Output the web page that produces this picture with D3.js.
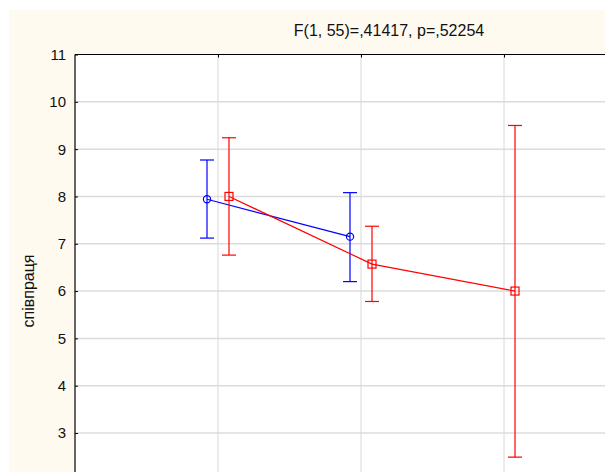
<!DOCTYPE html>
<html>
<head>
<meta charset="utf-8">
<script src="https://cdn.jsdelivr.net/npm/d3@7"></script>
<style>
  body { margin: 0; background: #fff; }
  svg { display: block; font-family: Arial, "Liberation Sans", sans-serif; }
</style>
</head>
<body>
<svg id="chart" width="605" height="472"></svg>
<script>
// Data
const categories = ['1', '2', '3'];
const yTicks = [3, 4, 5, 6, 7, 8, 9, 10, 11];
const title = 'F(1, 55)=,41417, p=,52254';
const yLabel = 'співпраця';

// series 1 (blue, circles)
const blueMean  = [7.94, 7.15, null];
const blueUpper = [8.77, 8.08, null];
const blueLower = [7.12, 6.20, null];

// series 2 (red, squares)
const redMean  = [8.00, 6.57, 6.00];
const redUpper = [9.24, 7.37, 9.50];
const redLower = [6.76, 5.78, 2.49];

const W = 605, H = 472;
const plot = { left: 75, top: 54.5, right: 647, bottom: 520 };

const svg = d3.select('#chart');

// Background panels
svg.append('rect').attr('x', 9).attr('y', 10).attr('width', W).attr('height', H).attr('fill', '#fffaf0');
svg.append('rect')
  .attr('x', plot.left).attr('y', plot.top)
  .attr('width', plot.right - plot.left).attr('height', plot.bottom - plot.top)
  .attr('fill', '#ffffff');

const x = d3.scalePoint().domain(categories).range([plot.left, plot.right]).padding(1);
const y = d3.scaleLinear().domain([3, 11]).range([433, plot.top]);

// Grid
const g = svg.append('g');
g.selectAll('.hgrid')
  .data(yTicks.filter(t => t < 11))
  .join('line')
  .attr('x1', plot.left).attr('x2', plot.right)
  .attr('y1', d => y(d)).attr('y2', d => y(d))
  .attr('stroke', '#dcdcdc').attr('stroke-width', 1.5);

g.selectAll('.vgrid')
  .data(categories)
  .join('line')
  .attr('x1', d => x(d)).attr('x2', d => x(d))
  .attr('y1', plot.top).attr('y2', plot.bottom)
  .attr('stroke', '#d8d8d8').attr('stroke-width', 1);

// Left axis (inward ticks)
svg.append('g')
  .attr('transform', `translate(${plot.left},0)`)
  .call(d3.axisRight(y).tickValues(yTicks).tickSize(3).tickFormat(''))
  .call(ax => ax.select('.domain').remove())
  .call(ax => ax.selectAll('line').attr('stroke', '#000'));

svg.append('line')
  .attr('x1', plot.left).attr('x2', plot.left)
  .attr('y1', plot.top).attr('y2', plot.bottom)
  .attr('stroke', '#000').attr('stroke-width', 1.2);

svg.selectAll('.ylab')
  .data(yTicks)
  .join('text')
  .attr('x', 66).attr('y', d => y(d))
  .attr('dy', '0.36em')
  .attr('text-anchor', 'end')
  .attr('font-size', 15)
  .attr('fill', '#111')
  .text(d => d);

// Top axis with downward ticks
svg.append('g')
  .attr('transform', `translate(0,${plot.top})`)
  .call(d3.axisBottom(x).tickSize(3).tickFormat(''))
  .call(ax => ax.select('.domain').remove())
  .call(ax => ax.selectAll('line').attr('stroke', '#000'));

svg.append('line')
  .attr('x1', plot.left).attr('x2', plot.right)
  .attr('y1', plot.top).attr('y2', plot.top)
  .attr('stroke', '#000').attr('stroke-width', 1.2);

// Title and y label
svg.append('text')
  .attr('x', 389).attr('y', 35.5)
  .attr('text-anchor', 'middle')
  .attr('font-size', 16)
  .attr('fill', '#111')
  .text(title);

svg.append('text')
  .attr('transform', 'translate(34,291) rotate(-90)')
  .attr('text-anchor', 'middle')
  .attr('font-size', 16)
  .attr('fill', '#111')
  .text(yLabel);

// Series
function drawSeries(mean, upper, lower, color, offset, marker) {
  const pts = categories.map((c, i) => ({ c, m: mean[i], hi: upper[i], lo: lower[i] }))
    .filter(d => d.m != null);
  const px = d => x(d.c) + offset;
  const s = svg.append('g');

  s.append('path')
    .datum(pts)
    .attr('fill', 'none')
    .attr('stroke', color).attr('stroke-width', 1.2)
    .attr('d', d3.line().x(px).y(d => y(d.m)));

  // whiskers
  s.selectAll('.whisk')
    .data(pts)
    .join('line')
    .attr('x1', px).attr('x2', px)
    .attr('y1', d => y(d.hi)).attr('y2', d => y(d.lo))
    .attr('stroke', color).attr('stroke-width', 1.2);

  ['hi', 'lo'].forEach(k => {
    s.selectAll('.cap-' + k)
      .data(pts)
      .join('line')
      .attr('x1', d => px(d) - 7).attr('x2', d => px(d) + 7)
      .attr('y1', d => y(d[k])).attr('y2', d => y(d[k]))
      .attr('stroke', color).attr('stroke-width', 1.2);
  });

  if (marker === 'circle') {
    s.selectAll('.mk')
      .data(pts)
      .join('circle')
      .attr('cx', px).attr('cy', d => y(d.m))
      .attr('r', 3.6)
      .attr('fill', 'none').attr('stroke', color).attr('stroke-width', 1.2);
  } else {
    s.selectAll('.mk')
      .data(pts)
      .join('rect')
      .attr('x', d => px(d) - 4).attr('y', d => y(d.m) - 4)
      .attr('width', 8).attr('height', 8)
      .attr('fill', 'none').attr('stroke', color).attr('stroke-width', 1.2);
  }
}

drawSeries(blueMean, blueUpper, blueLower, '#0000ff', -11, 'circle');
drawSeries(redMean, redUpper, redLower, '#ff0000', 11, 'square');
</script>
</body>
</html>
